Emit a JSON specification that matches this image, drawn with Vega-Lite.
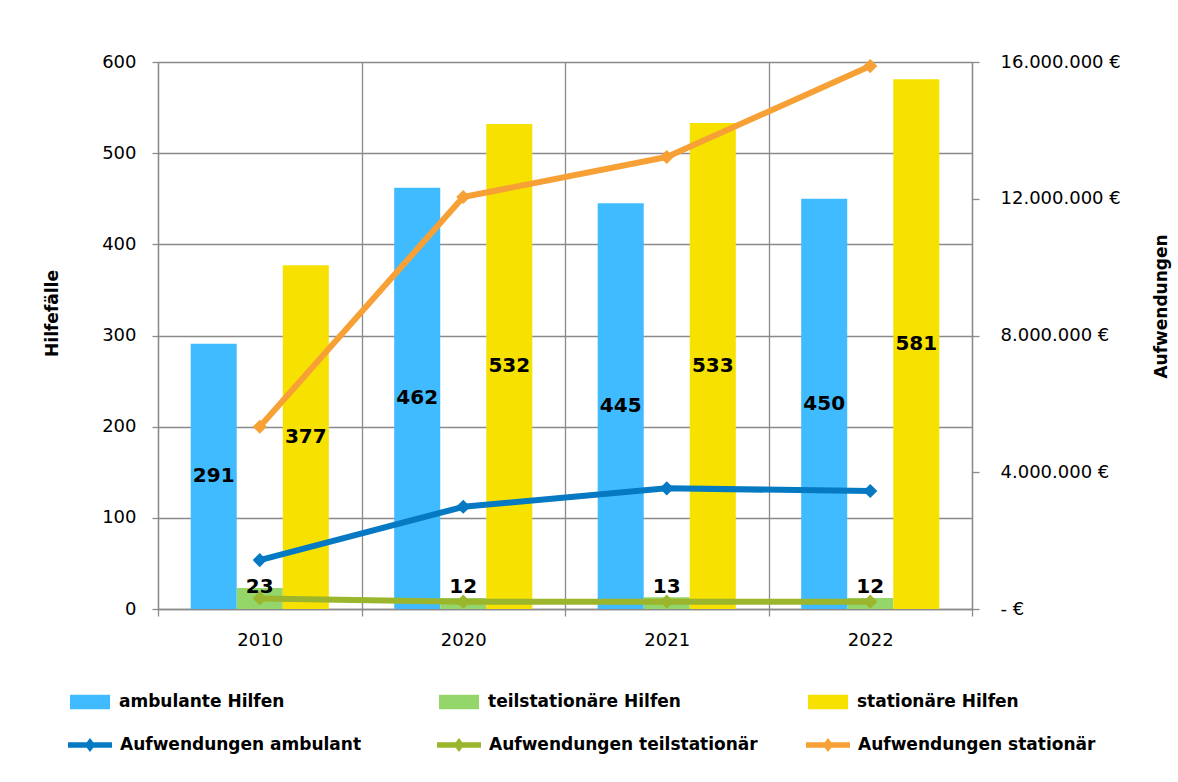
{
  "$schema": "https://vega.github.io/schema/vega-lite/v6.json",
  "width": 814,
  "height": 547,
  "autosize": {"type": "none"},
  "padding": {"left": 158, "top": 62, "right": 206, "bottom": 173},
  "background": "white",
  "config": {
    "font": "DejaVu Sans",
    "view": {"stroke": null},
    "locale": {"number": {"decimal": ",", "thousands": ".", "grouping": [3], "currency": ["", " €"]}},
    "axis": {
      "domainColor": "#8a8a8a", "domainWidth": 1.3,
      "tickColor": "#8a8a8a", "tickWidth": 1.3,
      "gridColor": "#8a8a8a", "gridWidth": 1.3, "gridOpacity": 1,
      "labelFont": "DejaVu Sans", "labelFontSize": 18, "labelColor": "#000",
      "titleFont": "DejaVu Sans", "titleFontSize": 17, "titleFontWeight": "bold", "titleColor": "#000"
    }
  },
  "datasets": {
    "faelle": [
      {"Jahr": "2010", "Hilfeart": "ambulante Hilfen", "Faelle": 291},
      {"Jahr": "2010", "Hilfeart": "teilstationäre Hilfen", "Faelle": 23},
      {"Jahr": "2010", "Hilfeart": "stationäre Hilfen", "Faelle": 377},
      {"Jahr": "2020", "Hilfeart": "ambulante Hilfen", "Faelle": 462},
      {"Jahr": "2020", "Hilfeart": "teilstationäre Hilfen", "Faelle": 12},
      {"Jahr": "2020", "Hilfeart": "stationäre Hilfen", "Faelle": 532},
      {"Jahr": "2021", "Hilfeart": "ambulante Hilfen", "Faelle": 445},
      {"Jahr": "2021", "Hilfeart": "teilstationäre Hilfen", "Faelle": 13},
      {"Jahr": "2021", "Hilfeart": "stationäre Hilfen", "Faelle": 533},
      {"Jahr": "2022", "Hilfeart": "ambulante Hilfen", "Faelle": 450},
      {"Jahr": "2022", "Hilfeart": "teilstationäre Hilfen", "Faelle": 12},
      {"Jahr": "2022", "Hilfeart": "stationäre Hilfen", "Faelle": 581}
    ],
    "aufwand": [
      {"Jahr": "2010", "Reihe": "Aufwendungen ambulant", "Euro": 1430000},
      {"Jahr": "2020", "Reihe": "Aufwendungen ambulant", "Euro": 2990000},
      {"Jahr": "2021", "Reihe": "Aufwendungen ambulant", "Euro": 3530000},
      {"Jahr": "2022", "Reihe": "Aufwendungen ambulant", "Euro": 3450000},
      {"Jahr": "2010", "Reihe": "Aufwendungen teilstationär", "Euro": 310000},
      {"Jahr": "2020", "Reihe": "Aufwendungen teilstationär", "Euro": 215000},
      {"Jahr": "2021", "Reihe": "Aufwendungen teilstationär", "Euro": 215000},
      {"Jahr": "2022", "Reihe": "Aufwendungen teilstationär", "Euro": 215000},
      {"Jahr": "2010", "Reihe": "Aufwendungen stationär", "Euro": 5330000},
      {"Jahr": "2020", "Reihe": "Aufwendungen stationär", "Euro": 12050000},
      {"Jahr": "2021", "Reihe": "Aufwendungen stationär", "Euro": 13220000},
      {"Jahr": "2022", "Reihe": "Aufwendungen stationär", "Euro": 15880000}
    ]
  },
  "resolve": {"scale": {"y": "independent"}},
  "layer": [
    {
      "data": {"name": "faelle"},
      "mark": {"type": "bar"},
      "encoding": {
        "x": {
          "field": "Jahr", "type": "nominal",
          "scale": {"paddingInner": 0, "paddingOuter": 0},
          "axis": {"title": null, "labelAngle": 0, "tickBand": "extent", "grid": true, "tickSize": 7, "labelPadding": 15}
        },
        "xOffset": {
          "field": "Hilfeart", "type": "nominal",
          "scale": {"domain": ["ambulante Hilfen", "teilstationäre Hilfen", "stationäre Hilfen"], "paddingInner": 0, "paddingOuter": 0.71}
        },
        "y": {
          "field": "Faelle", "type": "quantitative",
          "scale": {"domain": [0, 600], "nice": false},
          "axis": {
            "title": "Hilfefälle", "values": [0, 100, 200, 300, 400, 500, 600], "grid": true,
            "tickSize": 6, "labelPadding": 16,
            "titleAngle": 270, "titleX": -101, "titleY": 251, "titleBaseline": "alphabetic", "titleAlign": "center"
          }
        },
        "fill": {
          "field": "Hilfeart", "type": "nominal",
          "scale": {"domain": ["ambulante Hilfen", "teilstationäre Hilfen", "stationäre Hilfen"], "range": ["#41BBFF", "#94D66A", "#F7E100"]},
          "legend": {
            "title": null, "orient": "none", "legendX": -88, "legendY": 620,
            "direction": "horizontal", "columns": 3, "gridAlign": "all", "columnPadding": 127,
            "symbolType": "M-1,-0.36H1V0.36H-1Z", "symbolSize": 1600, "symbolStrokeWidth": 0,
            "labelFont": "DejaVu Sans", "labelFontSize": 17, "labelFontWeight": "bold", "labelColor": "#000",
            "labelOffset": 9, "labelLimit": 400
          }
        }
      }
    },
    {
      "data": {"name": "aufwand"},
      "mark": {"type": "line", "strokeWidth": 6, "strokeJoin": "round", "strokeCap": "round",
               "point": {"shape": "diamond", "size": 200, "filled": true}},
      "encoding": {
        "x": {"field": "Jahr", "type": "nominal"},
        "y": {
          "field": "Euro", "type": "quantitative",
          "scale": {"domain": [0, 16000000], "nice": false},
          "axis": {
            "orient": "right", "title": "Aufwendungen",
            "values": [0, 4000000, 8000000, 12000000, 16000000],
            "format": "$,.0f", "labelExpr": "datum.value == 0 ? '- €' : datum.label",
            "grid": false, "tickSize": 7, "labelPadding": 21,
            "titleAngle": 270, "titleX": 194, "titleY": 244, "titleBaseline": "alphabetic", "titleAlign": "center"
          }
        },
        "color": {
          "field": "Reihe", "type": "nominal",
          "scale": {"domain": ["Aufwendungen ambulant", "Aufwendungen teilstationär", "Aufwendungen stationär"], "range": ["#0579C1", "#9BB52D", "#F7A035"]},
          "legend": {
            "title": null, "orient": "none", "legendX": -90, "legendY": 661,
            "direction": "horizontal", "columns": 3, "gridAlign": "all", "columnPadding": 48,
            "symbolType": "M-1,-0.13H1V0.13H-1Z M0,-0.32L0.24,0L0,0.32L-0.24,0Z", "symbolSize": 1936,
            "labelFont": "DejaVu Sans", "labelFontSize": 17, "labelFontWeight": "bold", "labelColor": "#000",
            "labelOffset": 8, "labelLimit": 400,
            "encode": {"symbols": {"update": {"fill": {"scale": "color", "field": "value"}, "stroke": {"value": "transparent"}, "strokeWidth": {"value": 0}, "opacity": {"value": 1}}}}
          }
        }
      }
    },
    {
      "data": {"name": "faelle"},
      "transform": [{"filter": "datum.Hilfeart != 'teilstationäre Hilfen'"}],
      "mark": {"type": "text", "fontSize": 20, "fontWeight": "bold", "color": "#000", "baseline": "middle", "align": "center"},
      "encoding": {
        "x": {"field": "Jahr", "type": "nominal"},
        "xOffset": {"field": "Hilfeart", "type": "nominal", "scale": {"domain": ["ambulante Hilfen", "teilstationäre Hilfen", "stationäre Hilfen"]}},
        "y": {"field": "Faelle", "type": "quantitative", "scale": {"domain": [0, 1200], "nice": false}, "axis": null},
        "text": {"field": "Faelle", "type": "quantitative"}
      }
    },
    {
      "data": {"name": "faelle"},
      "transform": [{"filter": "datum.Hilfeart == 'teilstationäre Hilfen'"}],
      "mark": {"type": "text", "fontSize": 20, "fontWeight": "bold", "color": "#000", "baseline": "middle", "align": "center", "dy": -22},
      "encoding": {
        "x": {"field": "Jahr", "type": "nominal"},
        "xOffset": {"field": "Hilfeart", "type": "nominal", "scale": {"domain": ["ambulante Hilfen", "teilstationäre Hilfen", "stationäre Hilfen"]}},
        "y": {"datum": 0, "type": "quantitative", "scale": {"domain": [0, 600], "nice": false}, "axis": null},
        "text": {"field": "Faelle", "type": "quantitative"}
      }
    }
  ]
}
